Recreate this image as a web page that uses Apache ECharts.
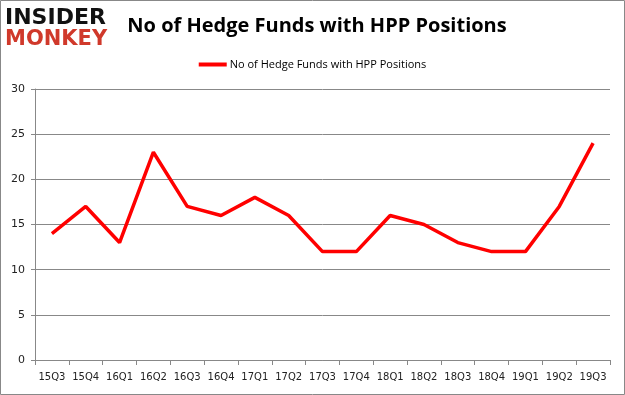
<!DOCTYPE html>
<html><head><meta charset="utf-8">
<script src="https://cdn.jsdelivr.net/npm/echarts@6/dist/echarts.min.js"></script>
<style>html,body{margin:0;padding:0;background:#fff}#c{width:625px;height:395px}</style>
</head><body><div id="c"></div>
<script>
const categories = ['15Q3','15Q4','16Q1','16Q2','16Q3','16Q4','17Q1','17Q2','17Q3','17Q4','18Q1','18Q2','18Q3','18Q4','19Q1','19Q2','19Q3'];
const hedgeFunds = [14,17,13,23,17,16,18,16,12,12,16,15,13,12,12,17,24];
const seriesName = 'No of Hedge Funds with HPP Positions';
const titleText = 'No of Hedge Funds with HPP Positions';

const chart = echarts.init(document.getElementById('c'));
chart.setOption({
  animation: false,
  backgroundColor: '#fff',
  title: {
    text: titleText, left: 312, top: 11, textAlign: 'center',
    textStyle: {fontFamily: 'Open Sans', fontWeight: 'bold', fontSize: 20, color: '#000'}
  },
  legend: {
    data: [seriesName], top: 54, left: 'center',
    itemWidth: 28, itemHeight: 4, itemGap: 4,
    icon: 'rect',
    textStyle: {fontFamily: 'Open Sans', fontSize: 11, color: '#000', padding: [0,0,0,-2]}
  },
  graphic: [
    {type: 'rect', shape: {x: 0.5, y: 0.5, width: 624, height: 394}, style: {fill: 'none', stroke: '#888', lineWidth: 1}},
    {type: 'text', left: 5, top: 7, style: {text: 'INSIDER', font: '900 22px "DejaVu Sans"', fill: '#111'}},
    {type: 'text', left: 5, top: 29, style: {text: 'MONKEY', font: '900 21px "DejaVu Sans"', fill: '#d0392b'}}
  ],
  grid: {left: 35, right: 15, top: 89, bottom: 35, containLabel: false},
  xAxis: {
    type: 'category', data: categories, boundaryGap: true,
    axisLine: {lineStyle: {color: '#888'}},
    axisTick: {show: true, alignWithLabel: false, length: 5, lineStyle: {color: '#888'}},
    axisLabel: {fontFamily: 'DejaVu Sans', fontSize: 10, color: '#222', margin: 12, interval: 0}
  },
  yAxis: {
    type: 'value', min: 0, max: 30, interval: 5,
    axisLine: {show: true, lineStyle: {color: '#888'}},
    axisTick: {show: true, length: 4, lineStyle: {color: '#888'}},
    splitLine: {lineStyle: {color: '#888'}},
    axisLabel: {fontFamily: 'DejaVu Sans', fontSize: 11, color: '#222', margin: 10}
  },
  series: [{
    name: seriesName, type: 'line', data: hedgeFunds,
    showSymbol: false, symbol: 'none',
    lineStyle: {color: '#ff0000', width: 3.5},
    itemStyle: {color: '#ff0000'}
  }]
});
</script></body></html>
